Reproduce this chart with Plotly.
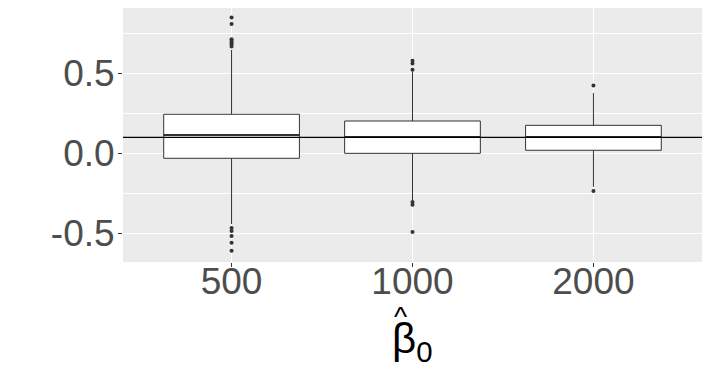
import plotly.graph_objects as go

# sample sizes and box statistics
sizes = ["500", "1000", "2000"]
q1 = [-0.031, 0.0, 0.019]
median = [0.114, 0.102, 0.102]
q3 = [0.244, 0.202, 0.175]
lower = [-0.442, -0.292, -0.209]
upper = [0.646, 0.512, 0.377]

# outliers per sample size
out_500 = [0.848, 0.808, 0.712, 0.702, 0.692, 0.682, 0.668,
           -0.467, -0.486, -0.517, -0.559, -0.609]
out_1000 = [0.579, 0.562, 0.522, -0.304, -0.321, -0.492]
out_2000 = [0.423, -0.236]

true_value = 0.1

fig = go.Figure()

fig.add_trace(go.Box(
    x=sizes, q1=q1, median=median, q3=q3,
    lowerfence=lower, upperfence=upper,
    width=0.75,
    fillcolor="white", line=dict(color="#333333", width=1),
    whiskerwidth=0, boxpoints=False, showlegend=False,
))

# thicker median bar like ggplot
fig.add_trace(go.Scatter(
    x=sizes, y=median, mode="markers",
    marker=dict(symbol="line-ew", size=97, line=dict(color="#333333", width=2)),
    showlegend=False, hoverinfo="skip",
))

ox = ([sizes[0]] * len(out_500) + [sizes[1]] * len(out_1000)
      + [sizes[2]] * len(out_2000))
oy = out_500 + out_1000 + out_2000
fig.add_trace(go.Scatter(
    x=ox, y=oy, mode="markers",
    marker=dict(color="#333333", size=4),
    showlegend=False,
))

fig.add_hline(y=true_value, line=dict(color="black", width=1.2))

# x axis title: beta-hat sub 0
fig.add_annotation(
    text="β<sub>0</sub>", xref="paper", x=0.5, yref="paper", y=-0.312,
    yanchor="middle", showarrow=False, font=dict(size=42, color="black"),
)
fig.add_annotation(
    text="^", xref="paper", x=0.5, xshift=-12, yref="paper", y=-0.216,
    yanchor="middle", showarrow=False, font=dict(size=28, color="black"),
)

# page body adds an 8px margin, so the figure is 8px smaller
fig.update_layout(
    width=703, height=376,
    margin=dict(l=115, r=9, t=0, b=122, autoexpand=False),
    paper_bgcolor="white", plot_bgcolor="#EBEBEB",
    font=dict(family="Liberation Sans, Arial", color="#4D4D4D", size=37),
)

fig.update_xaxes(
    type="category", range=[-0.6, 2.6], automargin=False,
    showgrid=True, gridcolor="white", gridwidth=1.1,
    ticks="outside", ticklen=4, tickcolor="#333333",
    tickfont=dict(size=37, color="#4D4D4D"), ticklabelstandoff=-17,
    zeroline=False, showline=False,
)

fig.update_yaxes(
    range=[-0.679, 0.908], automargin=False,
    tickvals=[-0.5, 0.0, 0.5], ticktext=["-0.5", "0.0", "0.5"],
    showgrid=True, gridcolor="white", gridwidth=1.1,
    minor=dict(tickvals=[-0.25, 0.25, 0.75], showgrid=True, gridcolor="white", gridwidth=0.5),
    ticks="outside", ticklen=4, tickcolor="#333333",
    tickfont=dict(size=37, color="#4D4D4D"), ticklabelstandoff=-4,
    zeroline=False, showline=False,
)

fig.write_html("out.html")
